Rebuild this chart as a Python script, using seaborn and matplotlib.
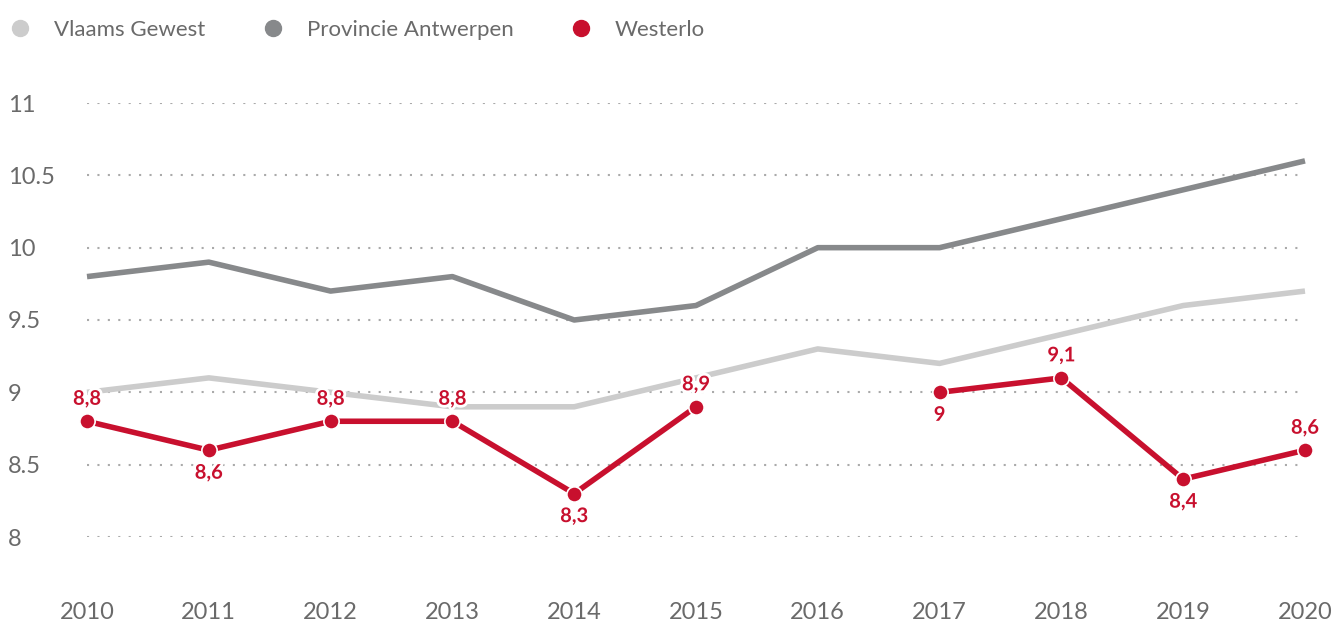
import pandas as pd
import seaborn as sns
import matplotlib.pyplot as plt
import matplotlib.patheffects as pe
from matplotlib.lines import Line2D
import numpy as np

years = [2010, 2011, 2012, 2013, 2014, 2015, 2016, 2017, 2018, 2019, 2020]
vlaams = [9.0, 9.1, 9.0, 8.9, 8.9, 9.1, 9.3, 9.2, 9.4, 9.6, 9.7]
antwerpen = [9.8, 9.9, 9.7, 9.8, 9.5, 9.6, 10.0, 10.0, 10.2, 10.4, 10.6]
westerlo = [8.8, 8.6, 8.8, 8.8, 8.3, 8.9, np.nan, 9.0, 9.1, 8.4, 8.6]
# label above (1) or below (-1) the point
label_side = [1, -1, 1, 1, -1, 1, 0, -1, 1, -1, 1]

names = ['Vlaams Gewest', 'Provincie Antwerpen', 'Westerlo']
colors = ['#cccccc', '#87898b', '#c8102e']

sns.set_style('white')
plt.rcParams['font.family'] = ['Lato', 'DejaVu Sans']

fig = plt.figure(figsize=(13.36, 6.24), dpi=100)
W, H = 1336, 624
ax = fig.add_axes([87 / W, 87 / H, (1305 - 87) / W, (537 - 103) / H])

df_v = pd.DataFrame({'year': years, 'value': vlaams})
df_a = pd.DataFrame({'year': years, 'value': antwerpen})
df_w = pd.DataFrame({'year': years, 'value': westerlo})
df_w['seg'] = df_w['value'].isna().cumsum()
df_w = df_w.dropna()

sns.lineplot(data=df_v, x='year', y='value', color=colors[0], lw=4, ax=ax,
             clip_on=False, solid_capstyle='butt')
sns.lineplot(data=df_a, x='year', y='value', color=colors[1], lw=4, ax=ax,
             clip_on=False, solid_capstyle='butt')
sns.lineplot(data=df_w, x='year', y='value', units='seg', estimator=None,
             color=colors[2], lw=4, ax=ax, clip_on=False,
             marker='o', markersize=11, markeredgecolor='white',
             markeredgewidth=1.2)

for x, y, s in zip(years, westerlo, label_side):
    if np.isnan(y):
        continue
    txt = f'{y:g}'.replace('.', ',')
    ax.annotate(txt, (x, y), xytext=(0, 9 * s), textcoords='offset points',
                ha='center', va='bottom' if s > 0 else 'top',
                color=colors[2], fontsize=14.5, fontweight='bold',
                path_effects=[pe.withStroke(linewidth=4, foreground='white')],
                zorder=10)

ax.set_xlim(2010, 2020)
ax.set_ylim(8, 11)
ax.set_xticks(years)
ax.set_xticklabels([str(y) for y in years])
yt = [8, 8.5, 9, 9.5, 10, 10.5, 11]
ax.set_yticks(yt)
ax.set_yticklabels([f'{v:g}' for v in yt], ha='left')
ax.tick_params(axis='y', length=0, pad=57, labelsize=17, labelcolor='#6a6a6a')
ax.tick_params(axis='x', length=0, pad=47, labelsize=17, labelcolor='#6a6a6a')
ax.yaxis.grid(True, linestyle=(0, (1, 4)), color='#aaaaaa', lw=1.5)
ax.xaxis.grid(False)
ax.set_axisbelow(True)
for sp in ax.spines.values():
    sp.set_visible(False)
ax.set_xlabel('')
ax.set_ylabel('')

handles = [Line2D([], [], marker='o', ls='', color=c, markersize=11.5) for c in colors]
fig.legend(handles, names, loc='upper left', bbox_to_anchor=(9 / W, 1 - 20 / H),
           ncol=3, frameon=False, handlelength=1.0, handletextpad=1.02,
           columnspacing=2.55, borderpad=0, borderaxespad=0,
           labelcolor='#6a6a6a', prop={'size': 16})

fig.savefig('out.png', dpi=100)
